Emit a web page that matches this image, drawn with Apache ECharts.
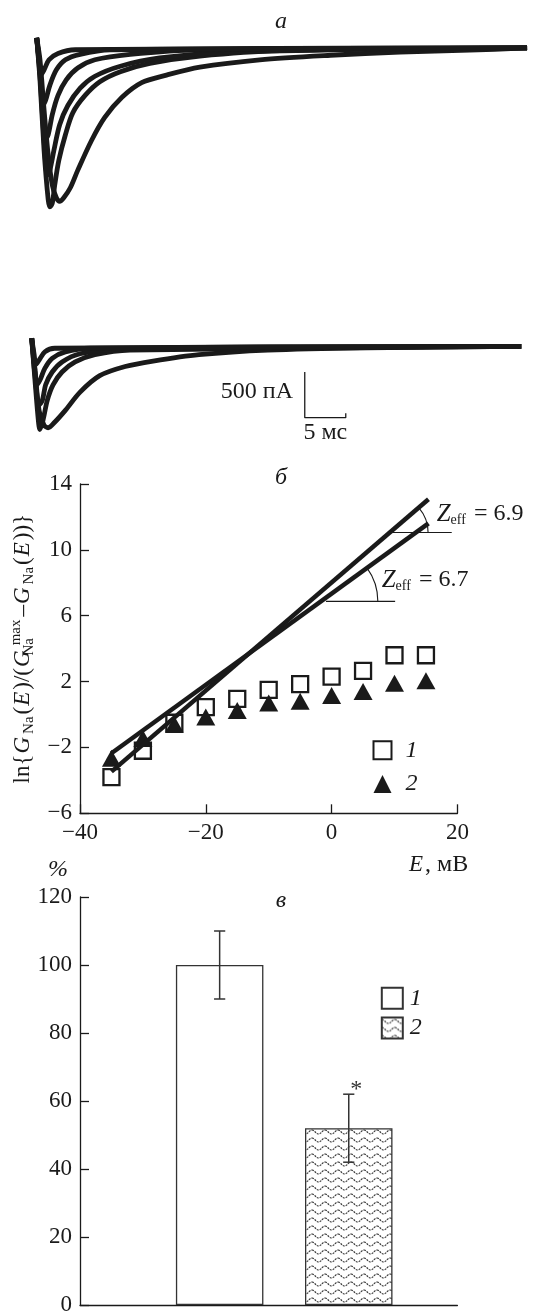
<!DOCTYPE html>
<html>
<head>
<meta charset="utf-8">
<script src="https://cdn.jsdelivr.net/npm/echarts@6/dist/echarts.min.js"></script>
<style>
  html, body { margin: 0; padding: 0; background: #fff; }
  #chart { width: 534px; height: 1314px; }
</style>
</head>
<body>
<div id="chart"></div>
<script>
// а: current traces, [time ms, current pA]
const controlTraces = [
  [[0,100],[0.4,-140],[0.9,-690],[1.4,-1180],[1.9,-1510],[2.4,-1650],[2.8,-1690],[3.3,-1650],[4.1,-1540],[5.0,-1350],[6.7,-1020],[8.3,-770],[10.4,-550],[12.8,-390],[15.7,-310],[19.9,-220],[27.2,-140],[35.8,-90],[44.3,-55],[52.8,-35],[59.8,-10]],
  [[0,100],[0.4,-360],[0.9,-1130],[1.4,-1670],[1.6,-1750],[1.9,-1710],[2.2,-1510],[2.7,-1240],[3.5,-960],[4.4,-720],[5.9,-530],[7.7,-380],[10.2,-270],[13.8,-180],[19.9,-100],[29.7,-40],[59.8,-10]],
  [[0,100],[0.4,-310],[0.9,-1020],[1.3,-1400],[1.6,-1350],[2.1,-1130],[2.8,-850],[3.8,-640],[5.3,-450],[7.1,-320],[10.2,-210],[15.0,-120],[23.5,-55],[59.8,-10]],
  [[0,100],[0.4,-250],[0.8,-800],[1.0,-1020],[1.4,-960],[1.9,-740],[2.6,-530],[3.6,-360],[5.0,-230],[7.1,-140],[11.4,-80],[19.9,-30],[59.8,-10]],
  [[0,100],[0.4,-250],[0.8,-630],[1.1,-580],[1.6,-420],[2.4,-250],[3.5,-140],[5.3,-80],[8.9,-30],[59.8,-10]],
  [[0,100],[0.3,-140],[0.5,-310],[0.9,-250],[1.5,-140],[2.6,-70],[4.7,-30],[59.8,-10]]
];
const treatedTraces = [
  [[0,80],[0.4,-270],[0.9,-710],[1.5,-870],[2.0,-900],[2.8,-840],[4.1,-710],[5.9,-510],[8.3,-330],[11.4,-230],[14.8,-170],[20.4,-100],[28.8,-50],[40.8,-25],[59.7,-10]],
  [[0,80],[0.4,-380],[0.8,-810],[1.0,-920],[1.4,-810],[1.9,-600],[2.6,-430],[3.7,-290],[5.3,-180],[7.7,-100],[12.0,-50],[59.7,-10]],
  [[0,80],[0.4,-320],[0.9,-650],[1.3,-600],[1.7,-430],[2.5,-290],[3.7,-180],[5.9,-90],[10.8,-40],[59.7,-10]],
  [[0,80],[0.4,-270],[0.6,-430],[1.0,-380],[1.6,-250],[2.5,-140],[4.1,-70],[7.1,-30],[59.7,-10]],
  [[0,80],[0.3,-100],[0.5,-210],[0.9,-160],[1.6,-70],[2.8,-30],[59.7,-10]]
];
const scaleBar = [[33.3,-290],[33.3,-790],[38.3,-790],[38.3,-740]];

// б: ln{G/(Gmax-G)} vs E
const ePoints = [-35, -30, -25, -20, -15, -10, -5, 0, 5, 10, 15];
const ctrlLn = [-3.8, -2.2, -0.5, 0.45, 0.95, 1.5, 1.85, 2.3, 2.65, 3.6, 3.6];
const treatLn = [-2.65, -1.45, -0.6, -0.15, 0.25, 0.7, 0.8, 1.15, 1.4, 1.9, 2.05];
const fitLine1 = [[-35, -3.47], [15.4, 13.07]];
const fitLine2 = [[-35, -2.35], [15.4, 11.61]];
const refLine1 = [[9.5, 11.05], [19.1, 11.05]];
const refLine2 = [[-0.9, 6.87], [10.1, 6.87]];
const arcSpots = [[9.3, 11.05], [-1.71, 6.87]];
const zLabels = ['6.9', '6.7'];

// в: relative amplitude, %
const barCats = ['1', '2'];
const barValues = [100, 52];
const barErrors = [10, 10];
const barMarks = ['', '*'];

const serif = '"Liberation Serif", "DejaVu Serif", serif';
const ink = '#1a1a1a';
const fits = [fitLine1, fitLine2];
const arcRadius = [38, 57];

function wavePattern() {
  const c = document.createElement('canvas');
  c.width = 13; c.height = 8;
  const g = c.getContext('2d');
  g.fillStyle = '#fff';
  g.fillRect(0, 0, 13, 8);
  g.strokeStyle = '#3a3a3a';
  g.lineWidth = 1.2;
  g.setLineDash([2, 1]);
  g.beginPath();
  for (let x = 0; x <= 13; x += 0.5) {
    const y = 4 - 2 * Math.cos(2 * Math.PI * x / 13);
    if (x === 0) g.moveTo(x, y); else g.lineTo(x, y);
  }
  g.stroke();
  return c;
}

const minus = v => String(v).replace('-', '\u2212');
const axisLine = { onZero: false, lineStyle: { color: ink, width: 1.3 } };
const tickIn = { inside: true, length: 9, lineStyle: { color: ink, width: 1.3 } };
const tickLabel = { fontFamily: serif, fontSize: 23, color: ink, formatter: minus };
const hidden = { show: false };

const chart = echarts.init(document.getElementById('chart'));

const series = [];
controlTraces.forEach(tr => series.push({
  type: 'line', xAxisIndex: 0, yAxisIndex: 0, data: tr, smooth: 0.3,
  symbol: 'none', silent: true, lineStyle: { color: ink, width: 4.8 }
}));
treatedTraces.forEach(tr => series.push({
  type: 'line', xAxisIndex: 1, yAxisIndex: 1, data: tr, smooth: 0.3,
  symbol: 'none', silent: true, lineStyle: { color: ink, width: 4.8 }
}));
series.push({
  type: 'line', xAxisIndex: 1, yAxisIndex: 1, data: scaleBar, symbol: 'none',
  lineStyle: { color: ink, width: 1.3 }
});

// б
series.push({
  name: '1', type: 'scatter', xAxisIndex: 2, yAxisIndex: 2, symbol: 'rect', symbolSize: 16,
  data: ePoints.map((e, i) => [e, ctrlLn[i]]),
  itemStyle: { color: '#fff', borderColor: ink, borderWidth: 2.3, opacity: 1 }, z: 3
});
series.push({
  name: '2', type: 'scatter', xAxisIndex: 2, yAxisIndex: 2, symbol: 'triangle', symbolSize: [19, 17],
  data: ePoints.map((e, i) => [e, treatLn[i]]),
  itemStyle: { color: ink, opacity: 1 }, z: 3
});
fits.forEach(f => series.push({
  type: 'line', xAxisIndex: 2, yAxisIndex: 2, data: f, symbol: 'none', z: 4,
  lineStyle: { color: ink, width: 4.5 }
}));
[refLine1, refLine2].forEach(r => series.push({
  type: 'line', xAxisIndex: 2, yAxisIndex: 2, data: r, symbol: 'none',
  lineStyle: { color: ink, width: 1.1 }
}));
series.push({
  type: 'custom', xAxisIndex: 2, yAxisIndex: 2, data: arcSpots,
  renderItem(params, api) {
    const i = params.dataIndex;
    const c = api.coord([api.value(0), api.value(1)]);
    const a = api.coord(fits[i][0]), b = api.coord(fits[i][1]);
    const ang = Math.atan2(b[1] - a[1], b[0] - a[0]);
    return {
      type: 'arc',
      shape: { cx: c[0], cy: c[1], r: arcRadius[i], startAngle: ang, endAngle: 0, clockwise: true },
      style: { stroke: ink, lineWidth: 1.1, fill: null }
    };
  }
});

// в
const pattern = { image: wavePattern(), repeat: 'repeat' };
series.push({
  name: '1 ', type: 'bar', xAxisIndex: 4, yAxisIndex: 4, barWidth: 87.5, barGap: '-100%',
  data: barValues.map((v, i) => i === 0 ? v : '-'),
  itemStyle: { color: '#fff', borderColor: '#333', borderWidth: 1.3 }
});
series.push({
  name: '2 ', type: 'bar', xAxisIndex: 4, yAxisIndex: 4, barWidth: 87.5, barGap: '-100%',
  data: barValues.map((v, i) => i === 1 ? v : '-'),
  itemStyle: { color: pattern, borderColor: '#333', borderWidth: 1.3 }
});
series.push({
  type: 'custom', xAxisIndex: 4, yAxisIndex: 4, z: 5,
  data: barCats.map((c, i) => [i, barValues[i], barErrors[i]]),
  renderItem(params, api) {
    const i = params.dataIndex;
    const v = api.value(1), e = api.value(2);
    const hi = api.coord([i, v + e]), lo = api.coord([i, v - e]);
    const w = 5.6, st = { stroke: '#333', lineWidth: 1.5 };
    const kids = [
      { type: 'line', shape: { x1: hi[0], y1: hi[1], x2: lo[0], y2: lo[1] }, style: st },
      { type: 'line', shape: { x1: hi[0] - w, y1: hi[1], x2: hi[0] + w, y2: hi[1] }, style: st },
      { type: 'line', shape: { x1: lo[0] - w, y1: lo[1], x2: lo[0] + w, y2: lo[1] }, style: st }
    ];
    if (barMarks[i]) kids.push({
      type: 'text',
      style: { text: barMarks[i], x: hi[0] + 7.5, y: hi[1] - 4, fontSize: 24, fontFamily: serif,
        fill: '#333', align: 'center', verticalAlign: 'middle' }
    });
    return { type: 'group', children: kids };
  }
});

const subRich = {
  r: { fontFamily: serif, fontSize: 23, color: ink, lineHeight: 26 },
  i: { fontFamily: serif, fontSize: 23, fontStyle: 'italic', color: ink, lineHeight: 26, padding: [0, 2, 0, 1] },
  s: { fontFamily: serif, fontSize: 15, color: ink, lineHeight: 15, padding: [13, 2, 0, 1] },
  s2: { fontFamily: serif, fontSize: 15, color: ink, lineHeight: 15, padding: [13, 0, 0, 1], width: 1, align: 'left' },
  p: { fontFamily: serif, fontSize: 15, color: ink, lineHeight: 15, padding: [0, 3, 13, 1] },
  e: { fontFamily: serif, fontSize: 14, color: ink, lineHeight: 14, padding: [13, 2, 0, 0] },
  t: { fontFamily: serif, fontSize: 24, color: ink, lineHeight: 26 },
  z: { fontFamily: serif, fontSize: 25, fontStyle: 'italic', color: ink, lineHeight: 26 }
};

const txt = (text, x, y, extra) => ({
  type: 'text', silent: true,
  style: Object.assign({ text, x, y, fontFamily: serif, fontSize: 24, fill: ink,
    align: 'center', verticalAlign: 'middle', rich: subRich }, extra || {})
});

chart.setOption({
  animation: false,
  backgroundColor: '#fff',
  grid: [
    { left: 36.7, top: 33.3, width: 492, height: 178.2, outerBoundsMode: 'none' },
    { left: 31.7, top: 331.8, width: 492, height: 105.1, outerBoundsMode: 'none' },
    { left: 80, top: 484, width: 377.4, height: 329.3, outerBoundsMode: 'none' },
    { left: 80, top: 897, width: 377.4, height: 408, outerBoundsMode: 'none' },
    { left: 155.1, top: 897, width: 258.2, height: 408, outerBoundsMode: 'none' }
  ],
  xAxis: [
    { gridIndex: 0, type: 'value', min: 0, max: 60, show: false },
    { gridIndex: 1, type: 'value', min: 0, max: 60, show: false },
    { gridIndex: 2, type: 'value', min: -40, max: 20, interval: 20,
      axisLine: axisLine, axisTick: tickIn, splitLine: hidden,
      axisLabel: Object.assign({ margin: 8 }, tickLabel) },
    { gridIndex: 3, type: 'value', min: 0, max: 1, axisLine: axisLine,
      axisTick: hidden, axisLabel: hidden, splitLine: hidden },
    { gridIndex: 4, type: 'category', data: barCats, show: false }
  ],
  yAxis: [
    { gridIndex: 0, type: 'value', min: -1800, max: 150, show: false },
    { gridIndex: 1, type: 'value', min: -1000, max: 150, show: false },
    { gridIndex: 2, type: 'value', min: -6, max: 14, interval: 4,
      axisLine: axisLine, axisTick: tickIn, splitLine: hidden,
      axisLabel: Object.assign({ margin: 8 }, tickLabel),
      name: '{r|ln{}{i|G}{s|Na}{r|(}{i|E}{r|)/(}{i|G}{s2|Na}{p|max}{r|–}{i|G}{s|Na}{r|(}{i|E}{r|))}}',
      nameLocation: 'middle', nameRotate: 90, nameGap: 42,
      nameTextStyle: { fontFamily: serif, fontSize: 23, color: ink, rich: subRich } },
    { gridIndex: 3, type: 'value', min: 0, max: 120, interval: 20,
      axisLine: axisLine, axisTick: tickIn, splitLine: hidden,
      axisLabel: Object.assign({ margin: 8 }, tickLabel) },
    { gridIndex: 4, type: 'value', min: 0, max: 120, show: false }
  ],
  legend: [
    { data: ['1', '2'], orient: 'vertical', left: 372.5, top: 738.3, itemWidth: 18, itemHeight: 18,
      itemGap: 9.7, padding: 0, selectedMode: false,
      textStyle: { fontFamily: serif, fontSize: 24, fontStyle: 'italic', color: ink, padding: [0, 0, 0, 9] } },
    { data: ['1 ', '2 '], orient: 'vertical', left: 380.8, top: 986.2, itemWidth: 21, itemHeight: 21,
      itemGap: 5.7, padding: 0, selectedMode: false, icon: 'rect', formatter: n => n.trim(),
      textStyle: { fontFamily: serif, fontSize: 24, fontStyle: 'italic', color: ink, padding: [0, 0, 0, 2] } }
  ],
  graphic: [
    txt('а', 281, 21.7, { fontStyle: 'italic' }),
    txt('500 пА', 293, 392, { align: 'right' }),
    txt('5 мс', 325.3, 433),
    txt('б', 281, 478, { fontStyle: 'italic' }),
    txt('{z|Z}{e|eff}{t| = ' + zLabels[0] + '}', 436.7, 514, { align: 'left' }),
    txt('{z|Z}{e|eff}{t| = ' + zLabels[1] + '}', 381.7, 580, { align: 'left' }),
    txt('{i|E}{t|, мВ}', 468.3, 865, { align: 'right' }),
    txt('%', 58, 870, { fontStyle: 'italic' }),
    txt('в', 281, 901, { fontStyle: 'italic' })
  ],
  series: series
});
</script>
</body>
</html>
